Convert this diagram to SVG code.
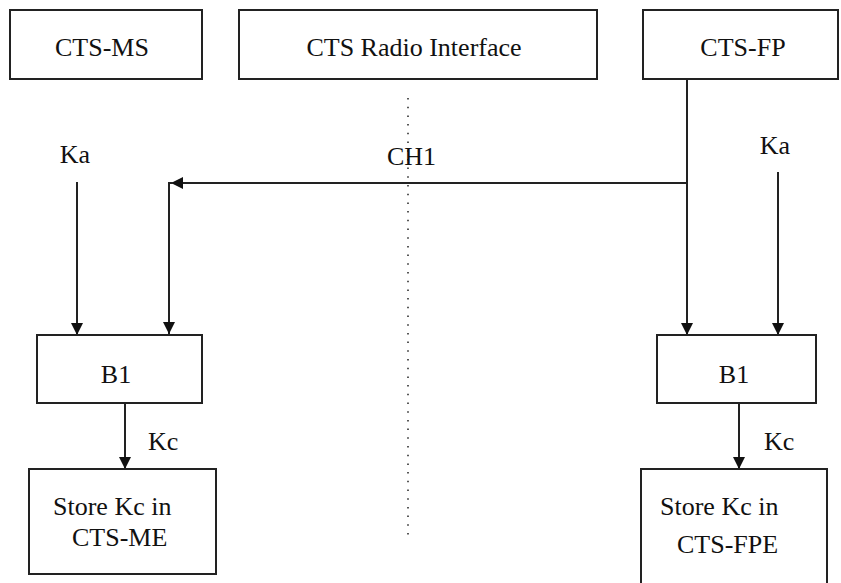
<svg xmlns="http://www.w3.org/2000/svg" width="841" height="583" viewBox="0 0 841 583">
<style>
.box{fill:#fff;stroke:#222;stroke-width:2}
.ln{fill:none;stroke:#222;stroke-width:2}
.dot{fill:none;stroke:#222;stroke-width:1.5;stroke-dasharray:1.5 7.2}
.m{text-anchor:middle}
.t{font-family:Liberation Serif, Times New Roman, Times, DejaVu Serif, serif;font-size:26px;fill:#111}
</style>
<defs>
<marker id="ah" viewBox="0 0 10 10" refX="10" refY="5" markerWidth="13" markerHeight="12" markerUnits="userSpaceOnUse" orient="auto">
<path d="M0,0 L10,5 L0,10 Z" fill="#111"/>
</marker>
</defs>
<rect width="841" height="583" fill="#fff"/>
<g id="connectors">
<line class="dot" x1="408" y1="98" x2="408" y2="536"/>
<line class="ln" x1="687" y1="183" x2="171" y2="183" marker-end="url(#ah)"/>
<path class="ln" d="M173,183 H169 V334" marker-end="url(#ah)"/>
<line class="ln" x1="77" y1="182" x2="77" y2="335" marker-end="url(#ah)"/>
<line class="ln" x1="687" y1="79" x2="687" y2="335" marker-end="url(#ah)"/>
<line class="ln" x1="778" y1="172" x2="778" y2="335" marker-end="url(#ah)"/>
<line class="ln" x1="125" y1="403" x2="125" y2="469" marker-end="url(#ah)"/>
<line class="ln" x1="739" y1="403" x2="739" y2="469" marker-end="url(#ah)"/>
<text class="t m" x="75" y="163">Ka</text>
<text class="t m" x="775" y="154">Ka</text>
<text class="t" x="387" y="165">CH1</text>
<text class="t" x="148" y="450">Kc</text>
<text class="t" x="764" y="450">Kc</text>
</g>
<g id="cts-ms">
<rect class="box" x="10" y="10" width="192" height="69"/>
<text class="t m" x="102" y="56">CTS-MS</text>
</g>
<g id="radio-interface">
<rect class="box" x="239" y="10" width="358" height="69"/>
<text class="t m" x="414" y="56">CTS Radio Interface</text>
</g>
<g id="cts-fp">
<rect class="box" x="643" y="10" width="195" height="69"/>
<text class="t m" x="743" y="56">CTS-FP</text>
</g>
<g id="b1-left">
<rect class="box" x="37" y="335" width="165" height="68"/>
<text class="t m" x="116" y="383">B1</text>
</g>
<g id="b1-right">
<rect class="box" x="657" y="335" width="159" height="68"/>
<text class="t m" x="734" y="383">B1</text>
</g>
<g id="store-me">
<rect class="box" x="29" y="469" width="187" height="105"/>
<text class="t" x="53" y="515">Store Kc in</text>
<text class="t" x="72" y="546">CTS-ME</text>
</g>
<g id="store-fpe">
<rect class="box" x="641" y="469" width="186" height="130"/>
<text class="t" x="660" y="515">Store Kc in</text>
<text class="t" x="677" y="553">CTS-FPE</text>
</g>
</svg>
